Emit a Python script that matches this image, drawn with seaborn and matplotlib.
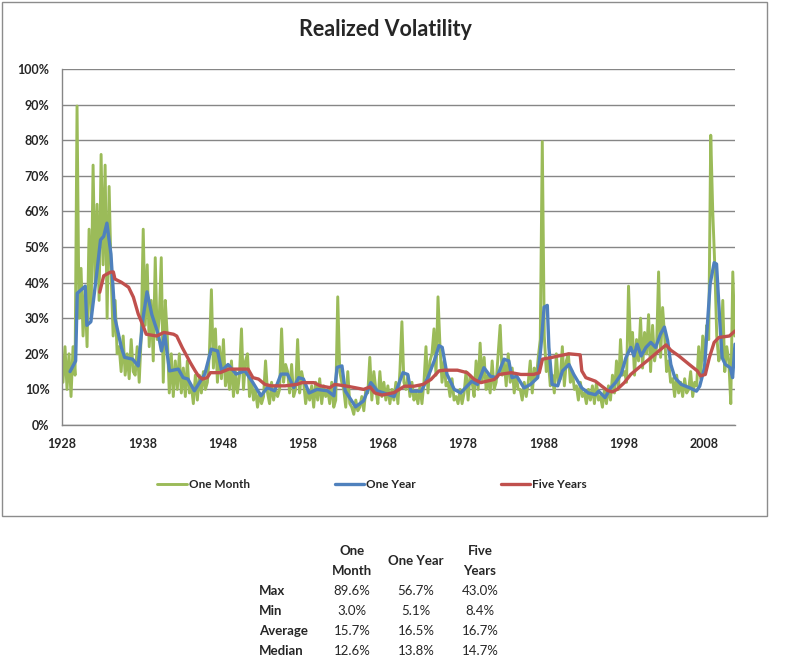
import numpy as np
import pandas as pd
import matplotlib
matplotlib.use("Agg")
import matplotlib.pyplot as plt
from matplotlib.patches import Rectangle
from matplotlib.ticker import FuncFormatter
import seaborn as sns

# ---------------- data ----------------
# One-month realized volatility (%), four readings per year, 1928-2011
one_month_start = 1928
one_month = [
    12, 22, 10, 20,   # 1928
    8, 22, 14, 89.6,  # 1929
    30, 44, 25, 38,   # 1930
    22, 55, 30, 73,   # 1931
    40, 62, 35, 76,   # 1932
    45, 73, 30, 67,   # 1933
    42, 25, 35, 20,   # 1934
    22, 15, 25, 14,   # 1935
    20, 13, 24, 15,   # 1936
    14, 22, 12, 25,   # 1937
    55, 28, 45, 22,   # 1938
    35, 18, 47, 24,   # 1939
    30, 47, 12, 35,   # 1940
    25, 9, 20, 8,     # 1941
    18, 10, 20, 9,    # 1942
    16, 8, 18, 9,     # 1943
    11, 6, 14, 7,     # 1944
    14, 9, 15, 10,    # 1945
    12, 20, 38, 16,   # 1946
    27, 12, 22, 13,   # 1947
    24, 11, 16, 10,   # 1948
    18, 8, 15, 9,     # 1949
    14, 27, 10, 18,   # 1950
    20, 8, 13, 7,     # 1951
    10, 5, 9, 6,      # 1952
    8, 18, 9, 6,      # 1953
    12, 7, 10, 8,     # 1954
    10, 27, 12, 17,   # 1955
    15, 9, 17, 8,     # 1956
    10, 24, 9, 15,    # 1957
    12, 6, 10, 7,     # 1958
    11, 5, 12, 7,     # 1959
    13, 6, 11, 8,     # 1960
    10, 6, 12, 5,     # 1961
    7, 36, 15, 12,    # 1962
    10, 5, 15, 6,     # 1963
    5, 3, 7, 4,       # 1964
    5, 8, 4, 10,      # 1965
    9, 19, 7, 15,     # 1966
    10, 6, 15, 8,     # 1967
    12, 7, 11, 6,     # 1968
    10, 7, 12, 6,     # 1969
    15, 29, 12, 10,   # 1970
    14, 8, 12, 7,     # 1971
    9, 6, 11, 6,      # 1972
    12, 22, 9, 18,    # 1973
    20, 27, 14, 36,   # 1974
    22, 12, 18, 11,   # 1975
    12, 8, 13, 7,     # 1976
    8, 6, 10, 6,      # 1977
    9, 15, 7, 14,     # 1978
    12, 8, 18, 10,    # 1979
    23, 12, 19, 10,   # 1980
    14, 9, 18, 10,    # 1981
    12, 20, 28, 14,   # 1982
    18, 11, 20, 12,   # 1983
    16, 9, 14, 10,    # 1984
    10, 7, 12, 8,     # 1985
    12, 18, 9, 16,    # 1986
    13, 19, 24, 79.6, # 1987
    25, 15, 18, 11,   # 1988
    14, 9, 20, 12,    # 1989
    13, 22, 11, 18,   # 1990
    20, 12, 15, 10,   # 1991
    11, 7, 12, 8,     # 1992
    9, 6, 10, 7,      # 1993
    11, 6, 12, 7,     # 1994
    8, 5, 10, 6,      # 1995
    11, 7, 14, 9,     # 1996
    18, 10, 24, 14,   # 1997
    15, 12, 39, 22,   # 1998
    26, 14, 24, 18,   # 1999
    30, 16, 26, 20,   # 2000
    31, 15, 28, 18,   # 2001
    22, 43, 19, 33,   # 2002
    25, 15, 18, 12,   # 2003
    13, 8, 14, 9,     # 2004
    12, 8, 13, 9,     # 2005
    10, 15, 8, 12,    # 2006
    11, 22, 13, 25,   # 2007
    18, 28, 24, 81.4, # 2008
    60, 45, 25, 18,   # 2009
    20, 35, 15, 22,   # 2010
    18, 6, 43, 25,    # 2011
]

one_year_dates = [1929.0, 1929.7, 1929.9, 1930.4, 1930.9, 1931.1, 1931.6, 1932.3,
                  1932.8, 1933.2, 1933.6, 1934.1, 1934.6, 1935.4, 1935.8, 1936.8,
                  1937.5, 1938.1, 1938.6, 1939.2, 1940.0, 1940.4, 1940.8, 1941.4,
                  1942.5, 1943.1, 1943.7, 1944.5, 1945.8, 1946.6, 1947.4, 1947.9,
                  1948.7, 1949.7, 1950.8, 1951.8, 1952.8, 1953.6, 1954.5, 1955.3,
                  1956.1, 1956.9, 1957.5, 1958.1, 1958.8, 1959.8, 1961.1, 1961.9,
                  1962.3, 1962.9, 1963.3, 1964.6, 1965.6, 1966.5, 1967.3, 1968.1,
                  1969.4, 1970.5, 1971.1, 1971.5, 1972.8, 1973.6, 1974.4, 1975.0,
                  1975.4, 1976.0, 1976.9, 1977.7, 1978.5, 1979.1, 1979.8, 1980.6,
                  1981.4, 1982.2, 1983.1, 1983.7, 1984.1, 1984.7, 1985.6, 1986.4,
                  1987.3, 1987.7, 1988.1, 1988.5, 1988.7, 1989.1, 1989.8, 1990.4,
                  1991.2, 1991.8, 1992.8, 1993.6, 1994.5, 1994.9, 1995.7, 1996.4,
                  1997.0, 1997.7, 1998.3, 1998.9, 1999.3, 1999.7, 2000.2, 2000.8,
                  2001.4, 2002.0, 2002.6, 2003.1, 2003.5, 2003.9, 2004.4, 2005.2,
                  2006.3, 2007.1, 2007.5, 2008.1, 2008.8, 2009.3, 2009.6, 2010.0,
                  2010.3, 2010.7, 2011.3, 2011.6, 2011.9]
one_year = [15, 18, 37, 38, 39, 28, 29, 42,
            52, 53, 56.7, 48, 30, 21.8, 19, 18.5,
            16.6, 30, 37.4, 31, 25.5, 20.8, 25.5, 15.2,
            15.7, 13.3, 12.9, 9.6, 14.3, 21.3, 20.8, 15.2,
            17, 14.3, 15.2, 11.9, 8.2, 10.5, 9.6, 14.3,
            14.3, 10.5, 13.3, 12.9, 9, 10, 9.6, 8.2,
            16.2, 16.6, 9.6, 5.1, 6.8, 11.9, 9.6, 9,
            8, 14.7, 14.2, 9.5, 9.5, 13.3, 18, 22.3,
            21.8, 14.2, 10, 9, 10.9, 12.3, 11.4, 16.1,
            13.7, 13.3, 18.5, 18, 13.3, 13.7, 10.4, 11.4,
            13.3, 21.8, 33.1, 33.6, 21.8, 11.4, 11, 15.2,
            17, 14.2, 10.4, 9, 8.5, 9.5, 7.7, 10.4,
            11.9, 14.2, 18.9, 21.8, 19.4, 22.7, 19.4, 21.8,
            23.2, 21.8, 25.5, 27.5, 23.7, 17, 13.3, 11.4,
            10.4, 9.5, 10.9, 16.1, 39.6, 45.6, 45.2, 29.2,
            18.9, 17, 16.1, 13.3, 22.7]

five_year_dates = [1932.7, 1933.2, 1934.0, 1934.4, 1934.6, 1935.4, 1936.3, 1936.9,
                   1937.5, 1938.1, 1938.5, 1939.8, 1940.7, 1941.9, 1942.3, 1943.0,
                   1944.0, 1944.6, 1945.0, 1945.5, 1946.1, 1946.5, 1947.7, 1948.8,
                   1950.5, 1951.2, 1951.8, 1952.5, 1953.3, 1954.1, 1955.8, 1957.3,
                   1957.9, 1959.4, 1960.2, 1961.4, 1962.0, 1963.3, 1964.5, 1965.6,
                   1966.4, 1967.0, 1967.9, 1969.4, 1970.7, 1971.9, 1973.0, 1974.0,
                   1975.0, 1975.7, 1977.3, 1978.5, 1979.4, 1980.2, 1981.9, 1982.5,
                   1984.0, 1985.2, 1986.8, 1987.5, 1987.9, 1988.9, 1989.9, 1991.2,
                   1992.6, 1992.8, 1993.3, 1994.5, 1995.3, 1996.0, 1996.6, 1997.2,
                   1998.1, 1998.9, 1999.9, 2001.2, 2002.4, 2003.3, 2003.9, 2004.9,
                   2006.2, 2007.2, 2007.6, 2008.2, 2008.7, 2009.3, 2009.9, 2011.2,
                   2011.9]
five_years = [37.3, 41.9, 42.9, 43.0, 41, 40.1, 38.7, 35.9,
              31.2, 27.9, 25.5, 25, 26, 25.5, 25, 21.7,
              17.5, 15.2, 13.8, 12.9, 13.3, 14.7, 14.7, 15.7,
              15.7, 15.7, 13.3, 12.9, 11.4, 11, 11, 11.4,
              11.9, 11.9, 11, 10.5, 11.4, 11, 10.5, 10,
              10.7, 9, 8.4, 9.1, 10.9, 10.9, 11.4, 12.8,
              15.2, 15.4, 15.4, 14.7, 12.8, 11.9, 12.8, 14.2,
              14.7, 14.2, 14.2, 14.7, 18.5, 18.9, 19.4, 20,
              19.7, 15.2, 13.3, 12.3, 10.9, 9.7, 9.3, 10,
              11.9, 14.2, 16.1, 18.5, 20.8, 22.5, 21, 19.4,
              17, 15.2, 13.8, 14.2, 18.9, 23.2, 24.6, 25,
              26.4]

series_names = ["One Month", "One Year", "Five Years"]
series_colors = ["#9BBB59", "#4F81BD", "#C0504D"]

stat_labels = ["Max", "Min", "Average", "Median"]
stat_one_month = [89.6, 3.0, 15.7, 12.6]
stat_one_year = [56.7, 5.1, 16.5, 13.8]
stat_five_years = [43.0, 8.4, 16.7, 14.7]
stat_headers = ["One\nMonth", "One Year", "Five\nYears"]

x_ticks = [1928, 1938, 1948, 1958, 1968, 1978, 1988, 1998, 2008]

# ---------------- build frames ----------------
om_dates = one_month_start + 0.125 + 0.25 * np.arange(len(one_month))
df_m = pd.DataFrame({"date": om_dates, "vol": one_month})
df_y = pd.DataFrame({"date": one_year_dates, "vol": one_year})
df_5 = pd.DataFrame({"date": five_year_dates, "vol": five_years})

# ---------------- figure ----------------
sns.set_style("white")
plt.rcParams["font.family"] = ["Lato", "DejaVu Sans"]

fig = plt.figure(figsize=(8.0, 6.61), dpi=100)
W, H = 800, 661

def fx(px):
    return px / W

def fy(py):
    return 1 - py / H

# chart border
fig.patches.append(Rectangle((fx(2), fy(516)), fx(767) - fx(2), fy(2) - fy(516),
                             transform=fig.transFigure, fill=False,
                             edgecolor="#8c8c8c", linewidth=1.0, zorder=0))

ax = fig.add_axes([fx(62), fy(425), fx(735) - fx(62), fy(69) - fy(425)])

grid_c = "#868686"
for df, name, col, lw in zip([df_m, df_y, df_5], series_names, series_colors,
                             [2.1, 2.4, 2.4]):
    sns.lineplot(data=df, x="date", y="vol", ax=ax, color=col, linewidth=lw,
                 label=name, estimator=None, sort=False)

ax.set_xlim(1928, 2011.9)
ax.set_ylim(0, 100)
ax.set_yticks(np.arange(0, 101, 10))
ax.yaxis.set_major_formatter(FuncFormatter(lambda v, p: f"{int(round(v))}%"))
ax.set_xticks(x_ticks)
ax.set_xticklabels([str(t) for t in x_ticks])
ax.set_xlabel("")
ax.set_ylabel("")
ax.grid(axis="y", color=grid_c, linewidth=1.0)
ax.set_axisbelow(True)
for s in ["top", "right"]:
    ax.spines[s].set_visible(False)
for s in ["left", "bottom"]:
    ax.spines[s].set_color(grid_c)
    ax.spines[s].set_linewidth(1.0)
ax.tick_params(axis="both", which="major", length=4, width=1, color=grid_c,
               direction="out", labelsize=9, pad=5)
for lab in ax.get_xticklabels() + ax.get_yticklabels():
    lab.set_fontweight("bold")

leg = ax.get_legend()
if leg is not None:
    leg.remove()
handles, labels = ax.get_legend_handles_labels()
fig.legend(handles, labels, loc="center", bbox_to_anchor=(fx(372), fy(485)),
           ncol=3, frameon=False, handlelength=2.5,
           handletextpad=0.15, columnspacing=7.2,
           prop={"weight": "bold", "size": 8.5})

fig.text(fx(385), fy(29), "Realized Volatility", ha="center", va="center",
         fontsize=15.5, fontweight="bold")

# ---------------- table ----------------
col_x = [352, 416, 480]
fs = 9.5
fig.text(fx(col_x[0]), fy(561), stat_headers[0], ha="center", va="center",
         fontsize=fs, fontweight="bold", linespacing=1.75)
fig.text(fx(col_x[1]), fy(561), stat_headers[1], ha="center", va="center",
         fontsize=fs, fontweight="bold")
fig.text(fx(col_x[2]), fy(561), stat_headers[2], ha="center", va="center",
         fontsize=fs, fontweight="bold", linespacing=1.75)
row_y = [591, 611, 631, 651]
for i, lab in enumerate(stat_labels):
    fig.text(fx(259), fy(row_y[i]), lab, ha="left", va="center",
             fontsize=fs, fontweight="bold")
    for cx, vals in zip(col_x, [stat_one_month, stat_one_year, stat_five_years]):
        fig.text(fx(cx), fy(row_y[i]), f"{vals[i]:.1f}%", ha="center",
                 va="center", fontsize=fs)

fig.savefig("out.png", dpi=100)
